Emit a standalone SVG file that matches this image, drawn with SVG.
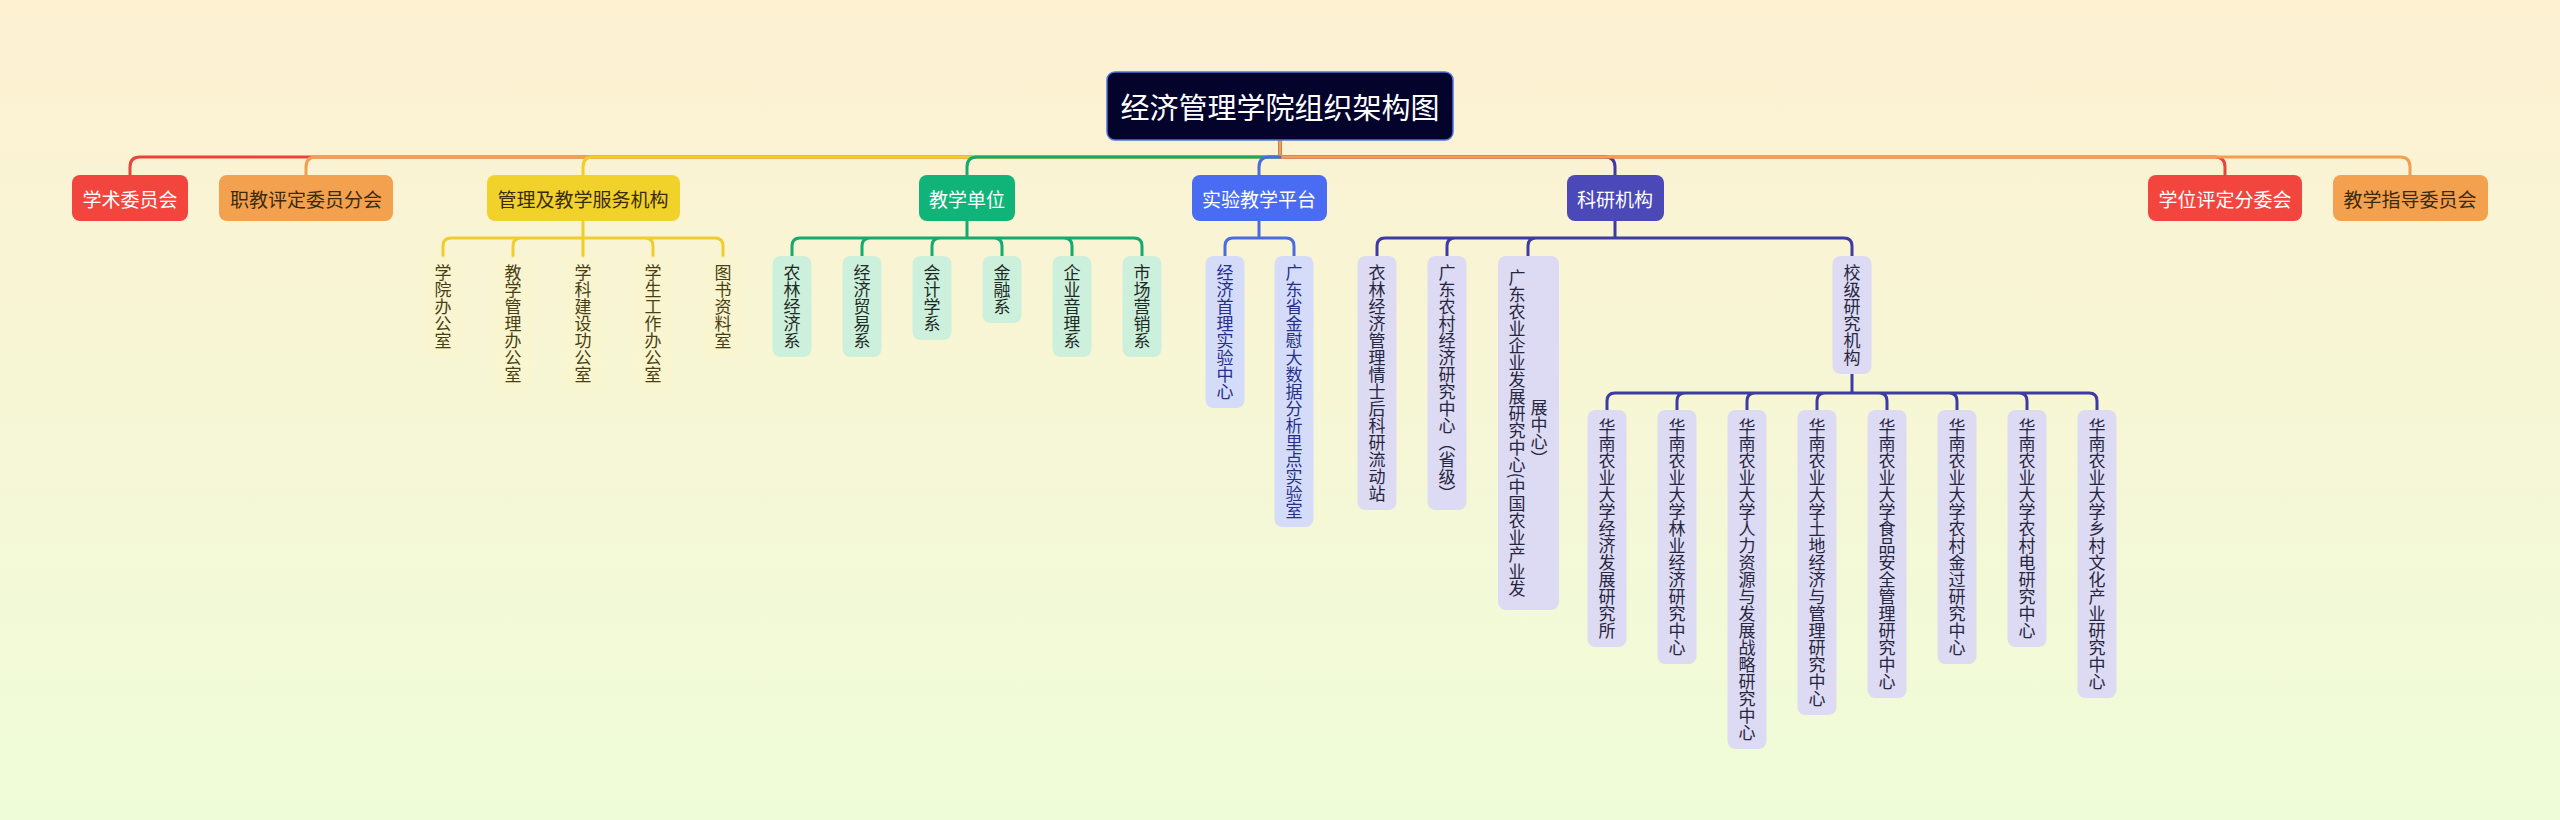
<svg xmlns="http://www.w3.org/2000/svg" width="2560" height="820" viewBox="0 0 2560 820">
<defs>
<linearGradient id="bg" x1="0" y1="0" x2="0" y2="1">
<stop offset="0" stop-color="#fdf1d2"/>
<stop offset="1" stop-color="#effcd8"/>
</linearGradient>
</defs>
<style>
text{font-family:"Noto Sans CJK SC","Noto Sans",sans-serif;}
.h{font-size:19px;text-anchor:middle;dominant-baseline:central;}
.v{font-size:17px;writing-mode:vertical-rl;text-anchor:middle;}
.w{fill:#ffffff;}
.dk{fill:#3a2b0e;}
.c{fill:none;stroke-width:3;stroke-linecap:round;stroke-linejoin:round;}
.red{stroke:#ea433b;}
.org{stroke:#f0a04f;}
.yel{stroke:#efcd2b;}
.grn{stroke:#13ab6e;}
.blu{stroke:#4a6ae6;}
.ind{stroke:#3e3ba6;}
.ny{fill:#fdf5c8;fill-opacity:0.35;}
.ng{fill:#cdf0dd;}
.nb{fill:#d5dcf9;}
.ni{fill:#dddaf3;}
.ty{fill:#4a3f12;}
.tg{fill:#1e2a24;}
.tb{fill:#25308a;}
.ti{fill:#26263f;}
</style>
<rect x="0" y="0" width="2560" height="820" fill="url(#bg)"/>

<g id="connectors">
<path class="c red" d="M1280,140 V157 H140 Q130,157 130,167 V175"/>
<path class="c org" d="M1280,140 V157 H316 Q306,157 306,167 V175"/>
<path class="c yel" d="M1280,140 V157 H593 Q583,157 583,167 V175"/>
<path class="c grn" d="M1280,140 V157 H977 Q967,157 967,167 V175"/>
<path class="c ind" d="M1280,140 V157 H1605 Q1615,157 1615,167 V175"/>
<path class="c red" d="M1280,140 V157 H2215 Q2225,157 2225,167 V175"/>
<path class="c org" d="M1280,140 V157 H2400 Q2410,157 2410,167 V175"/>
<path class="c blu" d="M1280,157 H1269 Q1259,157 1259,167 V175"/>

<path class="c yel" d="M583,221 V256 M583,238 H451 Q443,238 443,246 V256 M583,238 H521 Q513,238 513,246 V256 M583,238 H645 Q653,238 653,246 V256 M583,238 H715 Q723,238 723,246 V256"/>
<path class="c grn" d="M967,221 V238 M967,238 H800 Q792,238 792,246 V256 M967,238 H870 Q862,238 862,246 V256 M967,238 H940 Q932,238 932,246 V256 M967,238 H994 Q1002,238 1002,246 V256 M967,238 H1064 Q1072,238 1072,246 V256 M967,238 H1134 Q1142,238 1142,246 V256"/>
<path class="c blu" d="M1259,221 V238 M1259,238 H1233 Q1225,238 1225,246 V256 M1259,238 H1286 Q1294,238 1294,246 V256"/>
<path class="c ind" d="M1615,221 V238 M1615,238 H1385 Q1377,238 1377,246 V256 M1615,238 H1455 Q1447,238 1447,246 V256 M1615,238 H1536 Q1528,238 1528,246 V256 M1615,238 H1844 Q1852,238 1852,246 V256"/>
<path class="c ind" d="M1852,374 V393 M1852,393 H1615 Q1607,393 1607,401 V410 M1852,393 H1685 Q1677,393 1677,401 V410 M1852,393 H1755 Q1747,393 1747,401 V410 M1852,393 H1825 Q1817,393 1817,401 V410 M1852,393 H1879 Q1887,393 1887,401 V410 M1852,393 H1949 Q1957,393 1957,401 V410 M1852,393 H2019 Q2027,393 2027,401 V410 M1852,393 H2089 Q2097,393 2097,401 V410"/>
</g>

<g id="root">
<rect x="1107" y="72" width="346" height="68" rx="8" fill="#03032b" stroke="#4e73df" stroke-width="1.5"/>
<text x="1280" y="106" class="w" font-size="29" text-anchor="middle" dominant-baseline="central">经济管理学院组织架构图</text>
</g>

<g id="n-xueshu"><rect x="72" y="175" width="116" height="46" rx="8" fill="#f2453d"/><text class="h w" x="130" y="198">学术委员会</text></g>
<g id="n-zhijiao"><rect x="219" y="175" width="174" height="46" rx="8" fill="#f4a14f"/><text class="h dk" x="306" y="198">职教评定委员分会</text></g>
<g id="n-guanli"><rect x="487" y="175" width="193" height="46" rx="8" fill="#f1d22b"/><text class="h dk" x="583" y="198">管理及教学服务机构</text></g>
<g id="n-jiaoxue"><rect x="919" y="175" width="96" height="46" rx="8" fill="#10b479"/><text class="h w" x="967" y="198">教学单位</text></g>
<g id="n-shiyan"><rect x="1192" y="175" width="135" height="46" rx="8" fill="#4a6cf2"/><text class="h w" x="1259" y="198">实验教学平台</text></g>
<g id="n-keyan"><rect x="1567" y="175" width="97" height="46" rx="8" fill="#4b48b8"/><text class="h w" x="1615" y="198">科研机构</text></g>
<g id="n-xuewei"><rect x="2148" y="175" width="154" height="46" rx="8" fill="#f2453d"/><text class="h w" x="2225" y="198">学位评定分委会</text></g>
<g id="n-zhidao"><rect x="2333" y="175" width="155" height="46" rx="8" fill="#f4a14f"/><text class="h dk" x="2410" y="198">教学指导委员会</text></g>

<g id="y1"><rect class="ny" x="423.5" y="256" width="39" height="101" rx="8"/><text class="v ty" x="443" y="306.5">学院办公室</text></g>
<g id="y2"><rect class="ny" x="493.5" y="256" width="39" height="135" rx="8"/><text class="v ty" x="513" y="323.5">教学管理办公室</text></g>
<g id="y3"><rect class="ny" x="563.5" y="256" width="39" height="135" rx="8"/><text class="v ty" x="583" y="323.5">学科建设功公室</text></g>
<g id="y4"><rect class="ny" x="633.5" y="256" width="39" height="135" rx="8"/><text class="v ty" x="653" y="323.5">学生工作办公室</text></g>
<g id="y5"><rect class="ny" x="703.5" y="256" width="39" height="101" rx="8"/><text class="v ty" x="723" y="306.5">图书资料室</text></g>

<g id="g1"><rect class="ng" x="772.5" y="256" width="39" height="101" rx="8"/><text class="v tg" x="792" y="306.5">农林经济系</text></g>
<g id="g2"><rect class="ng" x="842.5" y="256" width="39" height="101" rx="8"/><text class="v tg" x="862" y="306.5">经济贸易系</text></g>
<g id="g3"><rect class="ng" x="912.5" y="256" width="39" height="84" rx="8"/><text class="v tg" x="932" y="298">会计学系</text></g>
<g id="g4"><rect class="ng" x="982.5" y="256" width="39" height="67" rx="8"/><text class="v tg" x="1002" y="289.5">金融系</text></g>
<g id="g5"><rect class="ng" x="1052.5" y="256" width="39" height="101" rx="8"/><text class="v tg" x="1072" y="306.5">企业音理系</text></g>
<g id="g6"><rect class="ng" x="1122.5" y="256" width="39" height="101" rx="8"/><text class="v tg" x="1142" y="306.5">市场营销系</text></g>

<g id="b1"><rect class="nb" x="1205.5" y="256" width="39" height="152" rx="8"/><text class="v tb" x="1225" y="332">经济首理实验中心</text></g>
<g id="b2"><rect class="nb" x="1274.5" y="256" width="39" height="271" rx="8"/><text class="v tb" x="1294" y="391.5">广东省金慰大数据分析里点实验室</text></g>

<g id="i1"><rect class="ni" x="1357.5" y="256" width="39" height="254" rx="8"/><text class="v ti" x="1377" y="383">衣林经济管理情士后科研流动站</text></g>
<g id="i2"><rect class="ni" x="1427.5" y="256" width="39" height="254" rx="8"/><text class="v ti" x="1447" y="383">广东农村经济研究中心（省级）</text></g>
<g id="i3"><rect class="ni" x="1498" y="256" width="61" height="354" rx="8"/><text class="v ti" x="1517" y="433">广东农业企业发展研究中心(中国农业产业发</text><text class="v ti" x="1539" y="433">展中心）</text></g>
<g id="i4"><rect class="ni" x="1832.5" y="256" width="39" height="118" rx="8"/><text class="v ti" x="1852" y="315">校级研究机构</text></g>

<g id="s1"><rect class="ni" x="1587.5" y="410" width="39" height="237" rx="8"/><text class="v ti" x="1607" y="528.5">华南农业大学经济发展研究所</text></g>
<g id="s2"><rect class="ni" x="1657.5" y="410" width="39" height="254" rx="8"/><text class="v ti" x="1677" y="537">华南农业大学林业经济研究中心</text></g>
<g id="s3"><rect class="ni" x="1727.5" y="410" width="39" height="339" rx="8"/><text class="v ti" x="1747" y="579.5">华南农业大学人力资源与发展战略研究中心</text></g>
<g id="s4"><rect class="ni" x="1797.5" y="410" width="39" height="305" rx="8"/><text class="v ti" x="1817" y="562.5">华南农业大学土地经济与管理研究中心</text></g>
<g id="s5"><rect class="ni" x="1867.5" y="410" width="39" height="288" rx="8"/><text class="v ti" x="1887" y="554">华南农业大学食品安全管理研究中心</text></g>
<g id="s6"><rect class="ni" x="1937.5" y="410" width="39" height="254" rx="8"/><text class="v ti" x="1957" y="537">华南农业大学农村金过研究中心</text></g>
<g id="s7"><rect class="ni" x="2007.5" y="410" width="39" height="237" rx="8"/><text class="v ti" x="2027" y="528.5">华南农业大学农村电研究中心</text></g>
<g id="s8"><rect class="ni" x="2077.5" y="410" width="39" height="288" rx="8"/><text class="v ti" x="2097" y="554">华南农业大学乡村文化产业研究中心</text></g>
</svg>
